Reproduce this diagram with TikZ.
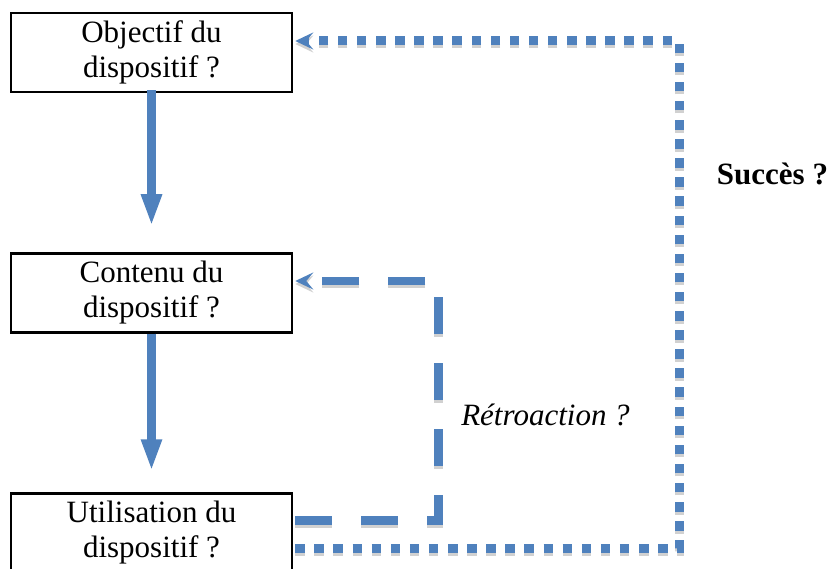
\documentclass[tikz,border=0pt]{standalone}
\usepackage{fontspec}
\setmainfont{Liberation Serif}
\usepackage{xcolor}
\usepackage{tikz}
\usetikzlibrary{arrows.meta,positioning}

\definecolor{officeblue}{HTML}{4F81BD}

\tikzset{
    stepbox/.style={draw, line width=2.5pt, minimum width=281pt, minimum height=79pt,
        inner sep=0pt, align=center, font=\fontsize{31}{35}\selectfont},
    downarrow/.style={officeblue, line width=9pt, -{Triangle[width=19pt,length=32pt]}},
    dotloop/.style={officeblue, line width=9pt, dash pattern=on 9.5pt off 9.6pt,
        -{Stealth[width=17pt,length=18pt,inset=7pt]},
        preaction={draw=black!18, dash pattern=on 9.5pt off 9.6pt, line width=9pt,
            transform canvas={yshift=-3pt}, -{Stealth[width=17pt,length=18pt,inset=7pt]}}},
    dashloop/.style={officeblue, line width=8.5pt, dash pattern=on 37pt off 29pt,
        -{Stealth[width=17pt,length=18pt,inset=7pt]},
        preaction={draw=black!18, dash pattern=on 37pt off 29pt, line width=8.5pt,
            transform canvas={yshift=-3pt}, -{Stealth[width=17pt,length=18pt,inset=7pt]}}}
}

\begin{document}
\begin{tikzpicture}[x=1pt, y=-1pt]
    \useasboundingbox (0,0) rectangle (833,569);

    % Boxes
    \node[stepbox] (objectif) at (151.5,52.5) {Objectif du\\dispositif ?};
    \node[stepbox] (contenu) at (151.5,293) {Contenu du\\dispositif ?};
    \node[stepbox] (utilisation) at (151.5,533) {Utilisation du\\dispositif ?};

    % Main flow
    \draw[downarrow, shorten <=-3pt, shorten >=26pt] (objectif.south) -- (contenu.north);
    \draw[downarrow, shorten >=21pt] (contenu.south) -- (utilisation.north);

    % Feedback loops
    \coordinate (dotcorner) at (679,41);
    \coordinate (dashcorner) at (438.5,281);
    \draw[dotloop] ([xshift=2pt,yshift=-15pt]utilisation.east) -| (dotcorner)
        -- ([xshift=2pt,yshift=11.5pt]objectif.east);
    \draw[dashloop] ([xshift=2pt,yshift=12.5pt]utilisation.east) -| (dashcorner)
        -- ([xshift=2pt,yshift=12pt]contenu.east);

    % Labels
    \node[anchor=base, font=\fontsize{31}{35}\selectfont\bfseries] (succes) at (772.5,185) {Succès ?};
    \node[anchor=base, font=\fontsize{31}{35}\selectfont\itshape] (retro) at (545.5,425) {Rétroaction ?};
\end{tikzpicture}
\end{document}
